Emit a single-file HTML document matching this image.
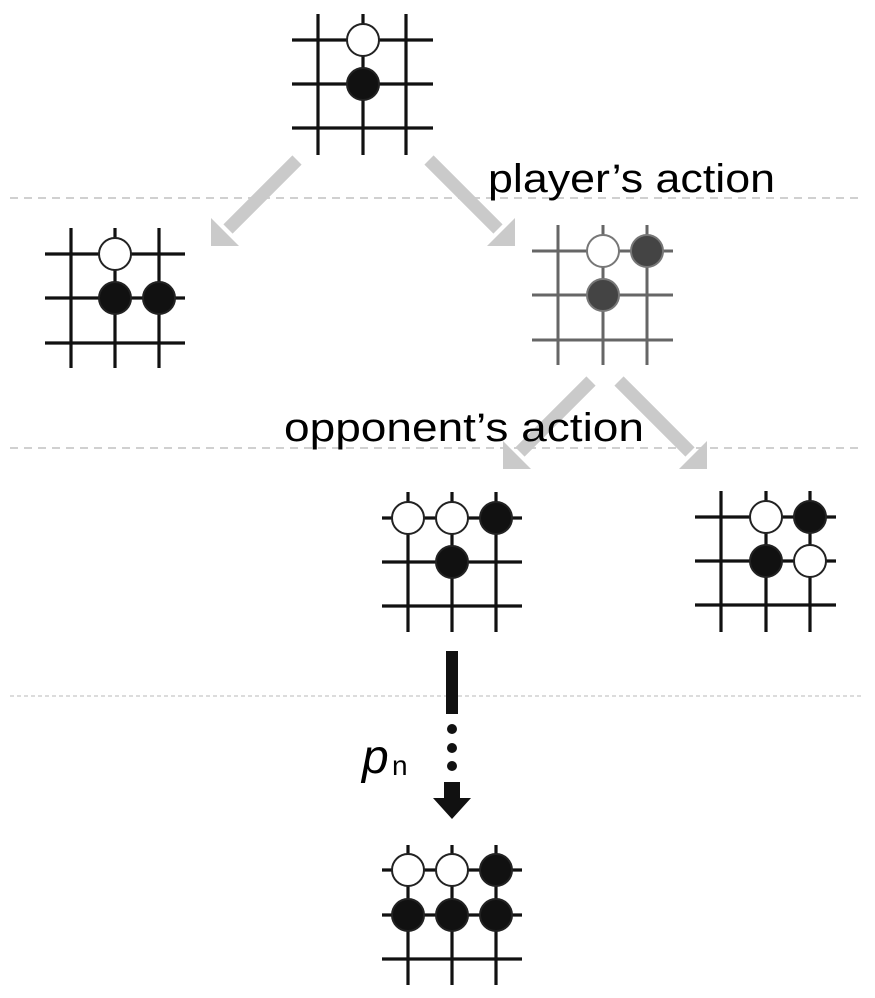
<!DOCTYPE html>
<html><head><meta charset="utf-8"><style>html,body{margin:0;padding:0;background:#fff}svg{display:block}</style></head>
<body>
<svg width="875" height="998" viewBox="0 0 875 998" xmlns="http://www.w3.org/2000/svg">
<g stroke="#d0d0d0" stroke-width="2" stroke-dasharray="8,6">
<line x1="10" y1="198" x2="862" y2="198"/>
<line x1="10" y1="448" x2="862" y2="448"/>
<line x1="10" y1="696" x2="862" y2="696" stroke-width="1.5" stroke-dasharray="4,3"/>
</g>
<g fill="#cacaca" stroke="none">
<line x1="297" y1="160" x2="228" y2="229" stroke="#cacaca" stroke-width="13"/>
<polygon points="211,218 211,246 239,246"/>
<line x1="429" y1="160" x2="498" y2="229" stroke="#cacaca" stroke-width="13"/>
<polygon points="515,218 515,246 487,246"/>
<line x1="591" y1="381" x2="520" y2="452" stroke="#cacaca" stroke-width="13"/>
<polygon points="503,441 503,469 531,469"/>
<line x1="619" y1="381" x2="690" y2="452" stroke="#cacaca" stroke-width="13"/>
<polygon points="707,441 707,469 679,469"/>
</g>
<g font-family="Liberation Sans, sans-serif" fill="#000">
<text x="488" y="192" font-size="40" textLength="287" lengthAdjust="spacingAndGlyphs">player’s action</text>
<text x="284" y="441" font-size="40" textLength="360" lengthAdjust="spacingAndGlyphs">opponent’s action</text>
<text x="362" y="773" font-size="48" font-style="italic">p</text>
<text x="392" y="775" font-size="28">n</text>
</g>
<g stroke="#111" stroke-width="3.2">
<path d="M318 14V155M363 14V155M406 14V155M292 40H433M292 84H433M292 128H433"/>
<path d="M71 228V368M115 228V368M159 228V368M45 254H185M45 298H185M45 343H185"/>
<path d="M408 492V632M452 492V632M496 492V632M382 518H522M382 562H522M382 606H522"/>
<path d="M721 491V632M766 491V632M810 491V632M695 517H836M695 561H836M695 605H836"/>
<path d="M408 845V985M452 845V985M496 845V985M382 870H522M382 915H522M382 959H522"/>
</g>
<g stroke="#666" stroke-width="3">
<path d="M558 225V365M603 225V365M647 225V365M532 251H673M532 295H673M532 340H673"/>
</g>
<g stroke="#222" stroke-width="2">
<circle cx="363" cy="40" r="16" fill="#fff"/>
<circle cx="363" cy="84" r="16" fill="#111"/>
<circle cx="115" cy="254" r="16" fill="#fff"/>
<circle cx="115" cy="298" r="16" fill="#111"/>
<circle cx="159" cy="298" r="16" fill="#111"/>
<circle cx="408" cy="518" r="16" fill="#fff"/>
<circle cx="452" cy="518" r="16" fill="#fff"/>
<circle cx="496" cy="518" r="16" fill="#111"/>
<circle cx="452" cy="562" r="16" fill="#111"/>
<circle cx="766" cy="517" r="16" fill="#fff"/>
<circle cx="810" cy="517" r="16" fill="#111"/>
<circle cx="766" cy="561" r="16" fill="#111"/>
<circle cx="810" cy="561" r="16" fill="#fff"/>
<circle cx="408" cy="870" r="16" fill="#fff"/>
<circle cx="452" cy="870" r="16" fill="#fff"/>
<circle cx="496" cy="870" r="16" fill="#111"/>
<circle cx="408" cy="915" r="16" fill="#111"/>
<circle cx="452" cy="915" r="16" fill="#111"/>
<circle cx="496" cy="915" r="16" fill="#111"/>
</g>
<g stroke="#777" stroke-width="2">
<circle cx="603" cy="251" r="16" fill="#fff"/>
<circle cx="647" cy="251" r="16" fill="#444"/>
<circle cx="603" cy="295" r="16" fill="#444"/>
</g>
<rect x="446" y="651" width="12" height="63" fill="#111"/>
<circle cx="452" cy="729" r="5" fill="#111"/>
<circle cx="452" cy="748" r="5" fill="#111"/>
<circle cx="452" cy="766" r="5" fill="#111"/>
<rect x="444" y="782" width="16" height="18" fill="#111"/>
<polygon points="433,798 471,798 452,819" fill="#111"/>
</svg>
</body></html>
